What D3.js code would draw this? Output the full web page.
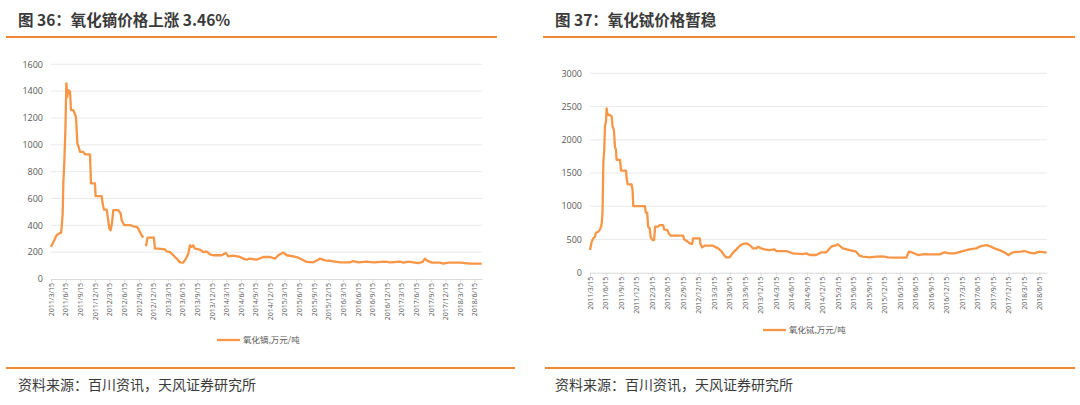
<!DOCTYPE html>
<html><head><meta charset="utf-8">
<script src="https://cdn.jsdelivr.net/npm/d3@7"></script>
<style>
body{margin:0;background:#fff;}
svg{display:block;font-family:"Noto Sans CJK SC","Noto Sans",sans-serif;}
</style></head>
<body><svg id="c" width="1080" height="405"></svg>
<script>
// ---------- data ----------
const titles = ["图 36：氧化镝价格上涨 3.46%", "图 37：氧化铽价格暂稳"];
const sourceText = "资料来源：百川资讯，天风证券研究所";
const legendNames = ["氧化镝,万元/吨", "氧化铽,万元/吨"];
const yTicksDy = [0,200,400,600,800,1000,1200,1400,1600];
const yTicksTb = [0,500,1000,1500,2000,2500,3000];
const tickDates = ["2011/3/15","2011/6/15","2011/9/15","2011/12/15","2012/3/15","2012/6/15","2012/9/15","2012/12/15","2013/3/15","2013/6/15","2013/9/15","2013/12/15","2014/3/15","2014/6/15","2014/9/15","2014/12/15","2015/3/15","2015/6/15","2015/9/15","2015/12/15","2016/3/15","2016/6/15","2016/9/15","2016/12/15","2017/3/15","2017/6/15","2017/9/15","2017/12/15","2018/3/15","2018/6/15"];

const dyDates = ["2011-03-15","2011-03-30","2011-04-19","2011-05-10","2011-05-17","2011-05-21","2011-05-27","2011-05-31","2011-06-06","2011-06-13","2011-06-19","2011-06-25","2011-07-01","2011-07-12","2011-07-18","2011-08-02","2011-08-18","2011-08-27","2011-09-04","2011-09-12","2011-10-03","2011-10-14","2011-11-14","2011-11-20","2011-12-15","2011-12-19","2012-01-26","2012-02-01","2012-02-09","2012-02-26","2012-03-07","2012-03-14","2012-03-22","2012-03-30","2012-04-08","2012-05-09","2012-05-24","2012-05-30","2012-06-15","2012-07-21","2012-08-11","2012-09-01","2012-09-11","2012-09-21","2012-10-02","2012-10-12","2012-10-19","2012-10-29","2012-11-08","2012-12-18","2012-12-24","2013-01-14","2013-02-25","2013-03-07","2013-03-28","2013-04-18","2013-05-09","2013-05-30","2013-06-19","2013-07-06","2013-07-21","2013-07-31","2013-08-10","2013-08-21","2013-08-31","2013-10-02","2013-10-22","2013-11-12","2013-12-03","2013-12-24","2014-02-14","2014-03-13","2014-03-28","2014-04-28","2014-06-09","2014-06-29","2014-07-20","2014-08-10","2014-09-21","2014-11-02","2014-12-14","2015-01-14","2015-02-04","2015-03-08","2015-03-28","2015-05-09","2015-06-09","2015-07-11","2015-07-31","2015-09-11","2015-10-12","2015-10-23","2015-11-23","2016-01-04","2016-02-25","2016-04-27","2016-05-18","2016-06-18","2016-08-10","2016-09-20","2016-12-02","2017-01-03","2017-03-06","2017-03-27","2017-04-27","2017-05-28","2017-06-29","2017-07-26","2017-08-09","2017-08-20","2017-09-20","2017-11-11","2017-12-02","2018-01-02","2018-03-16","2018-05-18","2018-07-30"];
const dyValues = [239,276,326,343,343,388,488,712,861,1110,1458,1358,1408,1396,1259,1259,1209,1010,985,948,948,928,928,712,712,617,617,562,517,517,438,376,363,413,513,513,488,438,401,401,393,388,376,351,326,308,null,244,308,308,226,226,221,206,201,177,152,124,122,152,189,251,239,251,226,219,201,206,184,177,177,194,169,174,164,152,144,152,144,164,164,152,177,197,177,169,159,139,127,124,144,152,139,134,124,124,134,124,129,124,129,124,129,122,129,124,119,127,152,139,122,122,114,122,122,114,114];

const tbDates = ["2011-03-15","2011-03-25","2011-04-04","2011-04-13","2011-04-19","2011-05-03","2011-05-13","2011-05-19","2011-05-23","2011-05-27","2011-05-29","2011-06-02","2011-06-07","2011-06-11","2011-06-17","2011-06-21","2011-06-27","2011-07-11","2011-07-21","2011-07-26","2011-08-03","2011-08-09","2011-08-15","2011-08-19","2011-09-08","2011-09-14","2011-10-13","2011-10-17","2011-10-23","2011-11-15","2011-11-21","2011-11-25","2012-02-01","2012-02-07","2012-02-15","2012-02-21","2012-03-01","2012-03-07","2012-03-17","2012-03-27","2012-04-02","2012-04-19","2012-04-29","2012-05-19","2012-05-25","2012-06-13","2012-06-21","2012-07-03","2012-09-14","2012-09-20","2012-10-03","2012-10-23","2012-11-06","2012-11-12","2012-12-21","2012-12-25","2013-01-04","2013-01-19","2013-03-09","2013-04-08","2013-04-27","2013-05-17","2013-05-27","2013-06-15","2013-07-05","2013-07-25","2013-08-13","2013-08-29","2013-09-22","2013-10-11","2013-10-31","2013-11-20","2013-11-29","2013-12-19","2014-01-08","2014-02-06","2014-03-07","2014-03-17","2014-05-15","2014-06-23","2014-08-21","2014-09-10","2014-09-30","2014-11-08","2014-12-07","2015-01-06","2015-02-04","2015-03-06","2015-03-15","2015-04-14","2015-05-23","2015-07-01","2015-07-21","2015-08-10","2015-09-18","2015-10-27","2015-12-05","2016-01-04","2016-02-02","2016-04-21","2016-05-07","2016-05-30","2016-06-29","2016-08-07","2016-09-05","2016-11-03","2016-12-03","2017-01-01","2017-01-31","2017-03-21","2017-04-29","2017-06-07","2017-07-07","2017-08-05","2017-08-25","2017-09-23","2017-10-23","2017-11-21","2017-12-15","2018-01-09","2018-02-27","2018-03-19","2018-04-17","2018-05-17","2018-06-15","2018-07-28"];
const tbValues = [341,467,517,542,602,617,652,692,743,868,1069,1671,1846,2197,2273,2473,2373,2373,2348,2197,2147,1896,1846,1696,1696,1535,1535,1420,1330,1330,1244,1003,1003,903,903,692,667,532,492,492,692,692,717,717,652,642,592,557,557,502,482,441,431,517,517,431,381,406,406,366,326,251,231,231,301,351,401,431,441,416,366,366,391,366,351,341,351,326,326,291,281,291,266,266,306,306,391,416,426,366,341,316,256,241,231,241,246,231,226,226,316,301,266,281,276,276,306,291,291,326,351,366,401,416,401,366,341,306,266,306,316,326,301,291,316,301];

// ---------- drawing ----------
const svg = d3.select("#c");
const parse = d3.timeParse("%Y-%m-%d");
const parseTick = d3.timeParse("%Y/%m/%d");
const ORANGE = "#F08A32", LINE = "#F79646", TXT = "#3a3a3a", AX = "#595959";
const NUMFONT = "'Open Sans','Noto Sans',sans-serif";

function panel(o){
  svg.append("text").attr("x",o.titleX).attr("y",26).attr("font-size",15.5).attr("font-weight","bold")
    .attr("fill",TXT).text(o.title);
  svg.append("line").attr("x1",o.ruleX1).attr("x2",o.ruleX2).attr("y1",37).attr("y2",37)
    .attr("stroke",ORANGE).attr("stroke-width",2);
  svg.append("line").attr("x1",o.botX1).attr("x2",o.botX2).attr("y1",368).attr("y2",368)
    .attr("stroke",ORANGE).attr("stroke-width",2);
  svg.append("text").attr("x",o.titleX).attr("y",390).attr("font-size",14).attr("fill",TXT).text(sourceText);

  const x = d3.scaleTime().domain([parse(o.domStart),parse(o.domEnd)]).range([o.x0,o.x1]);
  const y = d3.scaleLinear().domain([0,o.yMax]).range([o.y0,o.y1]);
  const g = svg.append("g");
  g.append("g").selectAll("line").data(o.yTicks.slice(1)).join("line")
    .attr("x1",o.x0).attr("x2",o.x1).attr("y1",d=>y(d)).attr("y2",d=>y(d))
    .attr("stroke","#e4e4e4").attr("stroke-width",0.8);
  g.append("g").selectAll("text").data(o.yTicks).join("text")
    .attr("x",o.x0-8).attr("y",d=>y(d)+3.2).attr("text-anchor","end")
    .attr("font-size",9).attr("fill",AX).attr("font-family",NUMFONT).text(d=>d);
  const td = tickDates.map(t=>parseTick(t));
  const xa = g.append("g").attr("transform",`translate(0,${o.y0})`)
    .call(d3.axisBottom(x).tickValues(td).tickSize(3).tickSizeOuter(0).tickFormat((d,i)=>tickDates[i]));
  xa.select(".domain").attr("stroke","#d9d9d9");
  xa.selectAll(".tick line").attr("stroke","#d9d9d9");
  xa.selectAll(".tick text").attr("transform","rotate(-90)").attr("text-anchor","end")
    .attr("x",-4).attr("y",0).attr("dy","0.32em").attr("font-size",7).attr("fill",AX)
    .attr("font-family",NUMFONT);
  const pts = o.dates.map((d,i)=>[parse(d),o.values[i]]);
  g.append("path").datum(pts).attr("fill","none").attr("stroke",LINE).attr("stroke-width",2.3)
    .attr("stroke-linejoin","round")
    .attr("d",d3.line().defined(d=>d[1]!=null).x(d=>x(d[0])).y(d=>y(d[1])));
  svg.append("line").attr("x1",o.legX).attr("x2",o.legX+23).attr("y1",o.legY).attr("y2",o.legY)
    .attr("stroke",LINE).attr("stroke-width",2.3);
  svg.append("text").attr("x",o.legX+26).attr("y",o.legY+3).attr("font-size",8.5).attr("fill",AX).text(o.legend);
}

panel({title:titles[0],titleX:18,ruleX1:6,ruleX2:497,botX1:6,botX2:515,
  domStart:"2011-03-15",domEnd:"2018-08-01",x0:51,x1:482,y0:279,y1:64.3,yMax:1600,yTicks:yTicksDy,
  dates:dyDates,values:dyValues,legX:217,legY:340,legend:legendNames[0]});
panel({title:titles[1],titleX:555,ruleX1:543,ruleX2:1075,botX1:545,botX2:1075,
  domStart:"2011-03-15",domEnd:"2018-07-30",x0:590,x1:1047,y0:272.7,y1:73.3,yMax:3000,yTicks:yTicksTb,
  dates:tbDates,values:tbValues,legX:763,legY:330,legend:legendNames[1]});
</script></body></html>
